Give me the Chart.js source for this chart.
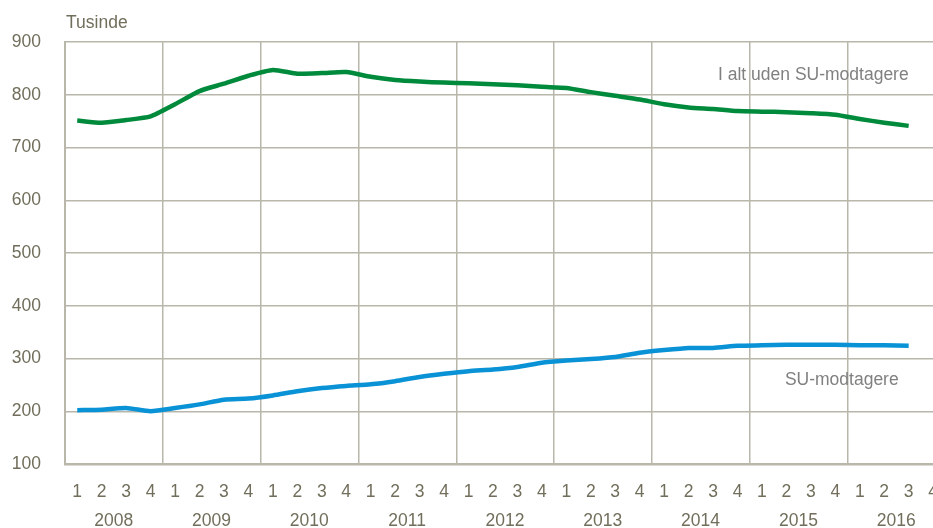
<!DOCTYPE html>
<html lang="da">
<head>
<meta charset="UTF-8" />
<title>SU-modtagere</title>
<script src="https://cdn.jsdelivr.net/npm/chart.js@4/dist/chart.umd.min.js"></script>
<style>
  html, body { margin: 0; padding: 0; background: #fff; overflow: hidden; width: 933px; height: 528px; }
  #wrap { width: 956px; height: 528px; }
</style>
</head>
<body>
<div id="wrap"><canvas id="myChart" width="956" height="528"></canvas></div>
<script>
  const quarters = [
    "1","2","3","4", "1","2","3","4", "1","2","3","4",
    "1","2","3","4", "1","2","3","4", "1","2","3","4",
    "1","2","3","4", "1","2","3","4", "1","2","3","4"
  ];
  const years = ["2008","2009","2010","2011","2012","2013","2014","2015","2016"];
  const yTicks = [100, 200, 300, 400, 500, 600, 700, 800, 900];

  // Tusinde personer, kvartalsvis 2008K1 - 2016K3
  const iAltUdenSU = [
    751, 747, 752, 759,
    782, 807, 821, 836,
    847, 840, 841, 843,
    834, 828, 825, 823,
    822, 820, 818, 815,
    813, 805, 798, 791,
    782, 776, 773, 769,
    768, 767, 765, 762,
    754, 747, 741
  ];
  const suModtagere = [
    202, 203, 206, 200,
    206, 213, 222, 224,
    230, 238, 244, 248,
    251, 257, 265, 271,
    276, 279, 284, 292,
    296, 299, 303, 311,
    316, 320, 320, 324,
    325, 326, 326, 326,
    325, 325, 324
  ];

  // year label sits under the middle of its four quarters
  const yearLabels = quarters.map((q, i) => (q === "2" ? years[Math.floor(i / 4)] : ""));

  const gridColor = "#b9b6aa";
  const tickColor = "#716e5b";
  const font = { family: "'Liberation Sans', Arial, sans-serif", size: 17.5 };

  const seriesLabels = {
    id: "seriesLabels",
    afterDatasetsDraw(chart) {
      const { ctx, scales, chartArea } = chart;
      ctx.save();
      ctx.font = "17.5px 'Liberation Sans', Arial, sans-serif";
      ctx.fillStyle = "#808080";
      ctx.textAlign = "right";
      ctx.textBaseline = "middle";
      ctx.fillText("I alt uden SU-modtagere", scales.x.getPixelForValue(34), scales.y.getPixelForValue(837));
      ctx.fillText("SU-modtagere", scales.x.getPixelForValue(34) - 10, scales.y.getPixelForValue(259));
      ctx.fillStyle = tickColor;
      ctx.textAlign = "left";
      ctx.textBaseline = "alphabetic";
      ctx.fillText("Tusinde", chartArea.left + 1, 28);
      ctx.restore();
    }
  };

  new Chart(document.getElementById("myChart").getContext("2d"), {
    type: "line",
    data: {
      labels: quarters,
      datasets: [
        {
          label: "I alt uden SU-modtagere",
          data: iAltUdenSU,
          borderColor: "#008a3c",
          borderWidth: 4.5,
          pointRadius: 0,
          tension: 0.2,
          fill: false
        },
        {
          label: "SU-modtagere",
          data: suModtagere,
          borderColor: "#0992d6",
          borderWidth: 4.5,
          pointRadius: 0,
          tension: 0.2,
          fill: false
        }
      ]
    },
    options: {
      responsive: false,
      animation: false,
      layout: { padding: { top: 42, right: 0, left: 0, bottom: 0 } },
      plugins: {
        legend: { display: false },
        tooltip: { enabled: false }
      },
      scales: {
        x: {
          type: "category",
          offset: true,
          weight: 0,
          grid: {
            offset: true,
            drawTicks: false,
            lineWidth: 1.5,
            color: (c) => (c.index % 4 === 0 && c.index > 0 ? gridColor : "rgba(0,0,0,0)")
          },
          border: { display: true, color: gridColor, width: 2.5 },
          ticks: { color: tickColor, font, padding: 18, autoSkip: false, maxRotation: 0 },
          afterFit: (s) => { s.height = 38; }
        },
        x2: {
          type: "category",
          position: "bottom",
          labels: yearLabels,
          offset: true,
          weight: 1,
          grid: { display: false, drawTicks: false },
          border: { display: false },
          ticks: { color: tickColor, font, padding: 9, autoSkip: false, maxRotation: 0, labelOffset: 12 },
          afterFit: (s) => { s.height = 26; }
        },
        y: {
          min: 100,
          max: 900,
          afterBuildTicks: (s) => { s.ticks = yTicks.map((v) => ({ value: v })); },
          grid: { color: gridColor, lineWidth: 1.5, drawTicks: false },
          border: { display: true, color: gridColor, width: 2 },
          ticks: { color: tickColor, font, padding: 24 },
          afterFit: (s) => { s.width = 65; }
        }
      }
    },
    plugins: [seriesLabels]
  });
</script>
</body>
</html>
